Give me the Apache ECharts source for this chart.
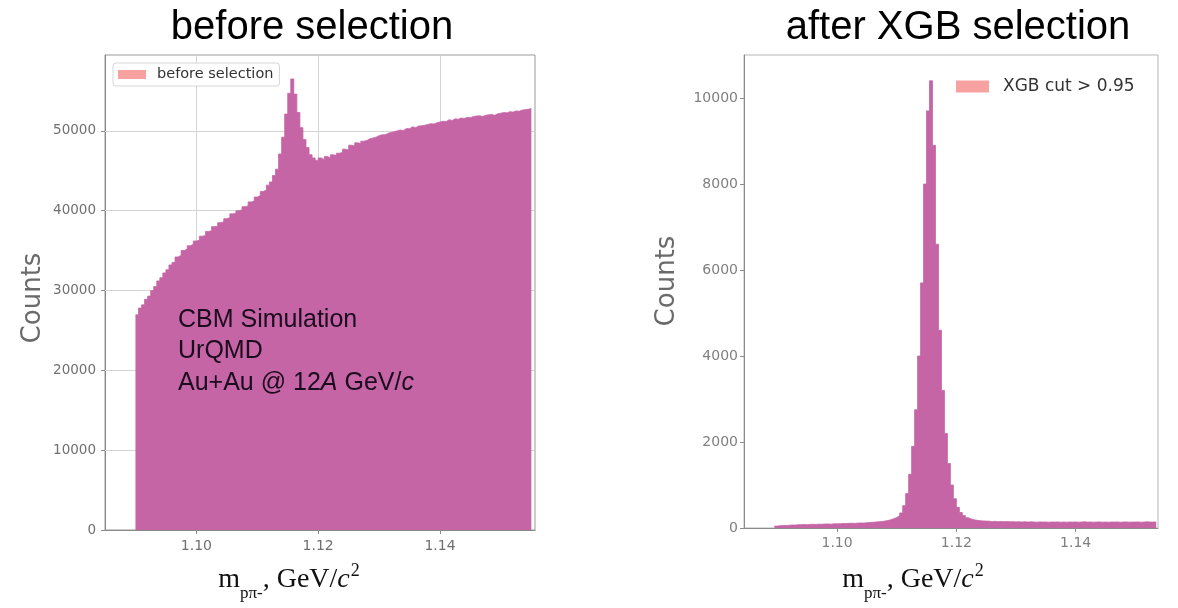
<!DOCTYPE html>
<html>
<head>
<meta charset="utf-8">
<script src="https://cdn.jsdelivr.net/npm/echarts@6/dist/echarts.min.js"></script>
<style>
html,body{margin:0;padding:0;background:#fff;}
#chart{width:1178px;height:608px;}
</style>
</head>
<body>
<div id="chart"></div>
<script>
// ---- data ----
const binWidth = 0.0005;
const leftStart = 1.090;
const rightStart = 1.0895;
const leftCounts = [
  26950, 27800, 28200, 28900, 29300, 30000, 30500, 31200, 31600, 32200, 32600, 33200, 33500, 34200, 34400, 35000, 35200, 35600, 35800, 36200,
  36300, 36800, 36900, 37400, 37500, 38000, 38050, 38500, 38600, 39000, 39100, 39600, 39650, 40000, 40100, 40500, 40600, 41100, 41200, 41700,
  41900, 42400, 42600, 43200, 43600, 44400, 45200, 47100, 49200, 52100, 54700, 56500, 54600, 52300, 50400, 48900, 47900, 47000, 46600, 46300,
  46600, 46400, 46800, 46600, 47000, 46900, 47200, 47300, 47700, 47600, 48200, 48100, 48500, 48400, 48700, 48800, 49000, 49100, 49200, 49400,
  49500, 49500, 49700, 49800, 49900, 50000, 50100, 50050, 50300, 50250, 50500, 50400, 50600, 50650, 50700, 50800, 50900, 50850, 51000, 51100,
  51200, 51150, 51400, 51300, 51500, 51450, 51600, 51550, 51700, 51650, 51800, 51850, 51900, 51800, 51950, 52000, 52050, 51950, 52150, 52200,
  52300, 52250, 52400, 52350, 52500, 52450, 52600, 52650, 52700, 52800
];
const rightCounts = [
  45, 55, 60, 58, 65, 70, 68, 75, 78, 80, 76, 84, 86, 82, 90, 88, 92, 95, 90, 98,
  96, 100, 104, 102, 108, 110, 106, 114, 118, 115, 122, 128, 132, 138, 145, 152, 160, 172, 190, 215,
  245, 285, 350, 520, 800, 1250, 1900, 2750, 4000, 5700, 8000, 9700, 10400, 8900, 6600, 4600, 3200, 2200, 1500, 1000,
  680, 480, 360, 290, 240, 210, 190, 178, 170, 165, 160, 158, 150, 154, 147, 152, 145, 150, 143, 148,
  142, 146, 140, 145, 138, 143, 140, 136, 142, 138, 141, 135, 140, 137, 142, 136, 139, 134, 140, 137,
  141, 136, 139, 143, 137, 140, 135, 139, 142, 136, 138, 134, 140, 137, 141, 135, 138, 142, 136, 139,
  137, 141, 135, 139, 143, 137, 140, 138
];
const xTickValues = [1.10, 1.12, 1.14];
const leftYTicks = [0, 10000, 20000, 30000, 40000, 50000];
const rightYTicks = [0, 2000, 4000, 6000, 8000, 10000];
const leftName = 'before selection';
const rightName = 'XGB cut > 0.95';
const leftTitle = 'before selection';
const rightTitle = 'after XGB selection';

// ---- helpers ----
function toSteps(start, counts) {
  const pts = counts.map((c, i) => [+(start + i * binWidth).toFixed(5), c]);
  pts.push([+(start + counts.length * binWidth).toFixed(5), counts[counts.length - 1]]);
  return pts;
}

const histColor = '#C565A5';
const legendColor = '#F7A1A1';
const sans = 'DejaVu Sans';

function xAxisCfg(idx, min, max, labelColor, fs, margin) {
  return {
    type: 'value', gridIndex: idx, min: min, max: max,
    axisLine: { show: true, onZero: false, lineStyle: { color: '#8a8a8a', width: 1 } },
    axisTick: { show: true, inside: false, length: 4, customValues: xTickValues, lineStyle: { color: '#8a8a8a' } },
    axisLabel: { customValues: xTickValues, formatter: v => v.toFixed(2), color: labelColor, fontSize: fs, fontFamily: sans, margin: margin },
    splitLine: { show: false }
  };
}
function yAxisCfg(idx, max, ticks, labelColor, fs, margin) {
  return {
    type: 'value', gridIndex: idx, min: 0, max: max,
    axisLine: { show: true, lineStyle: { color: '#8a8a8a', width: 1 } },
    axisTick: { show: true, inside: false, length: 4, customValues: ticks, lineStyle: { color: '#8a8a8a' } },
    axisLabel: { customValues: ticks, formatter: v => String(v), color: labelColor, fontSize: fs, fontFamily: sans, margin: margin },
    splitLine: { show: false }
  };
}

const chart = echarts.init(document.getElementById('chart'), null, { renderer: 'canvas' });

const option = {
  animation: false,
  backgroundColor: '#ffffff',
  grid: [
    { left: 105, top: 55, width: 430, height: 475, show: true, borderColor: '#9a9a9a', borderWidth: 1, backgroundColor: 'transparent' },
    { left: 744, top: 55, width: 414, height: 473, show: true, borderColor: '#b5b5b5', borderWidth: 1, backgroundColor: 'transparent' }
  ],
  xAxis: [
    xAxisCfg(0, 1.085, 1.1556, '#707070', 14, 9),
    xAxisCfg(1, 1.0844, 1.1538, '#808080', 14, 8)
  ],
  yAxis: [
    yAxisCfg(0, 59500, leftYTicks, '#707070', 13.5, 9),
    yAxisCfg(1, 11000, rightYTicks, '#808080', 14, 6)
  ],
  legend: [
    {
      data: [{ name: leftName, itemStyle: { color: legendColor } }],
      left: 113, top: 63, icon: 'rect', itemWidth: 28, itemHeight: 9,
      padding: [4, 6, 4, 5], backgroundColor: 'rgba(255,255,255,0.85)',
      borderColor: '#d6d6d6', borderWidth: 1, borderRadius: 3, selectedMode: false,
      textStyle: { fontSize: 14.5, color: '#333', fontFamily: sans, padding: [0, 0, 0, 6] }
    },
    {
      data: [{ name: rightName, itemStyle: { color: legendColor } }],
      left: 956, top: 78, icon: 'rect', itemWidth: 33, itemHeight: 12,
      padding: 0, selectedMode: false,
      textStyle: { fontSize: 17, color: '#333', fontFamily: sans, padding: [0, 0, 0, 9] }
    }
  ],
  series: [
    {
      name: 'grid', type: 'line', xAxisIndex: 0, yAxisIndex: 0, z: 1,
      data: [], silent: true,
      markLine: {
        z: 1, silent: true, symbol: ['none', 'none'], label: { show: false },
        lineStyle: { color: '#d4d4d4', type: 'solid', width: 1 },
        emphasis: { disabled: true },
        data: xTickValues.map(v => ({ xAxis: v })).concat(leftYTicks.filter(v => v > 0).map(v => ({ yAxis: v })))
      }
    },
    {
      name: leftName, type: 'line', xAxisIndex: 0, yAxisIndex: 0, z: 3,
      step: 'end', symbol: 'none', data: toSteps(leftStart, leftCounts),
      lineStyle: { color: histColor, width: 0.8 },
      itemStyle: { color: histColor },
      areaStyle: { color: histColor, opacity: 1 }
    },
    {
      name: rightName, type: 'line', xAxisIndex: 1, yAxisIndex: 1, z: 3,
      step: 'end', symbol: 'none', data: toSteps(rightStart, rightCounts),
      lineStyle: { color: histColor, width: 0.8 },
      itemStyle: { color: histColor },
      areaStyle: { color: histColor, opacity: 1 }
    }
  ],
  graphic: [
    { type: 'text', x: 312, y: 28, z: 10, style: { text: leftTitle, align: 'center', verticalAlign: 'middle', fontSize: 40, fontFamily: 'Liberation Sans', fill: '#000' } },
    { type: 'text', x: 958, y: 28, z: 10, style: { text: rightTitle, align: 'center', verticalAlign: 'middle', fontSize: 40, fontFamily: 'Liberation Sans', fill: '#000' } },
    { type: 'text', x: 33, y: 298, rotation: Math.PI / 2, z: 10, style: { text: 'Counts', align: 'center', verticalAlign: 'middle', fontSize: 26, fontFamily: sans, fill: '#6a6a6a' } },
    { type: 'text', x: 667, y: 281, rotation: Math.PI / 2, z: 10, style: { text: 'Counts', align: 'center', verticalAlign: 'middle', fontSize: 26, fontFamily: sans, fill: '#6a6a6a' } },
    {
      type: 'text', x: 178, y: 304, z: 10,
      style: {
        text: 'CBM Simulation\nUrQMD\n{a|Au+Au @ 12}{i|A}{a| GeV/}{i|c}',
        align: 'left', verticalAlign: 'top', fontSize: 25, lineHeight: 31.5,
        fontFamily: 'Liberation Sans', fill: '#1b0b1e',
        rich: {
          a: { fontSize: 25, lineHeight: 31.5, fontFamily: 'Liberation Sans', fill: '#1b0b1e' },
          i: { fontSize: 25, lineHeight: 31.5, fontFamily: 'Liberation Sans', fontStyle: 'italic', fill: '#1b0b1e' }
        }
      }
    },
    {
      type: 'text', x: 289, y: 558, z: 10,
      style: {
        text: '{m|m}{s|pπ-}{m|, GeV/}{c|c}{p|2}',
        align: 'center', verticalAlign: 'top',
        rich: {
          m: { fontSize: 28, lineHeight: 44, fontFamily: 'Liberation Serif', fill: '#111' },
          c: { fontSize: 28, lineHeight: 44, fontFamily: 'Liberation Serif', fontStyle: 'italic', fill: '#111' },
          s: { fontSize: 17, lineHeight: 17, verticalAlign: 'bottom', fontFamily: 'Liberation Serif', fill: '#111' },
          p: { fontSize: 18, lineHeight: 18, verticalAlign: 'top', padding: [4, 0, 0, 1], fontFamily: 'Liberation Serif', fill: '#111' }
        }
      }
    },
    {
      type: 'text', x: 913, y: 558, z: 10,
      style: {
        text: '{m|m}{s|pπ-}{m|, GeV/}{c|c}{p|2}',
        align: 'center', verticalAlign: 'top',
        rich: {
          m: { fontSize: 28, lineHeight: 44, fontFamily: 'Liberation Serif', fill: '#111' },
          c: { fontSize: 28, lineHeight: 44, fontFamily: 'Liberation Serif', fontStyle: 'italic', fill: '#111' },
          s: { fontSize: 17, lineHeight: 17, verticalAlign: 'bottom', fontFamily: 'Liberation Serif', fill: '#111' },
          p: { fontSize: 18, lineHeight: 18, verticalAlign: 'top', padding: [4, 0, 0, 1], fontFamily: 'Liberation Serif', fill: '#111' }
        }
      }
    }
  ]
};
chart.setOption(option);
</script>
</body>
</html>
